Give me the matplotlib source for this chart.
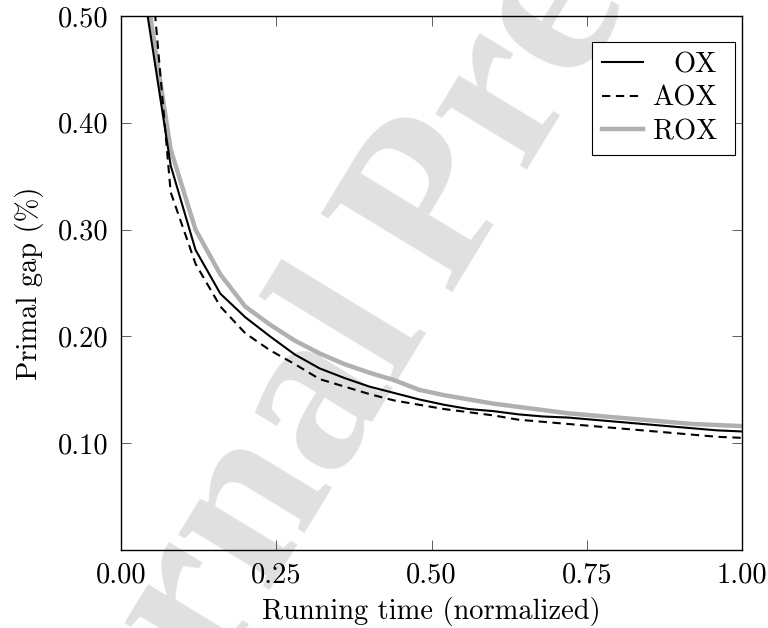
import matplotlib
matplotlib.use("Agg")
import matplotlib.pyplot as plt

# running time (normalized) and primal gap (%) per method
time = [0.04, 0.08, 0.12, 0.16, 0.20, 0.24, 0.28, 0.32, 0.36, 0.40, 0.44, 0.48, 0.52,
        0.56, 0.60, 0.64, 0.68, 0.72, 0.76, 0.80, 0.84, 0.88, 0.92, 0.96, 1.00]
gap_ox = [0.511, 0.360, 0.281, 0.240, 0.218, 0.200, 0.183, 0.170, 0.161, 0.153, 0.147, 0.141, 0.136,
          0.132, 0.130, 0.127, 0.125, 0.124, 0.122, 0.120, 0.118, 0.116, 0.114, 0.112, 0.111]
gap_aox = [0.600, 0.335, 0.268, 0.228, 0.203, 0.187, 0.174, 0.160, 0.153, 0.146, 0.140, 0.136, 0.132,
           0.129, 0.126, 0.122, 0.120, 0.118, 0.116, 0.114, 0.112, 0.110, 0.108, 0.106, 0.105]
gap_rox = [0.527, 0.375, 0.300, 0.258, 0.228, 0.211, 0.196, 0.184, 0.174, 0.166, 0.159, 0.150, 0.145,
           0.141, 0.137, 0.134, 0.131, 0.128, 0.126, 0.124, 0.122, 0.120, 0.118, 0.117, 0.116]

xticks = [0.0, 0.25, 0.5, 0.75, 1.0]
xtick_labels = ["0.00", "0.25", "0.50", "0.75", "1.00"]
yticks = [0.1, 0.2, 0.3, 0.4, 0.5]
ytick_labels = ["0.10", "0.20", "0.30", "0.40", "0.50"]

plt.rcParams["font.family"] = ["cmr10", "DejaVu Serif"]
plt.rcParams["axes.formatter.use_mathtext"] = True
plt.rcParams["lines.scale_dashes"] = False
fs = 20.5

fig = plt.figure(figsize=(7.68, 6.28), dpi=100)
ax = fig.add_axes([121 / 768, 78 / 628, 621 / 768, 534 / 628])

# watermark
wm = dict(family="Liberation Serif", weight="bold", fontsize=168, color="#e0e0e0",
          rotation=58.7, rotation_mode="anchor", va="baseline",
          transform=fig.transFigure, clip_on=False, zorder=0.5)
ax.text(0.5833, 0.5334, "Pre-proof", ha="left", **wm)
ax.text(0.5833 - 0.031, 0.5334 - 0.042, "Journal", ha="right", **wm)

ax.plot(time, gap_ox, color="black", lw=1.5, label="OX", zorder=3)
ax.plot(time, gap_aox, color="black", lw=1.5, dashes=(6, 4), label="AOX", zorder=3)
ax.plot(time, gap_rox, color="#b0b0b0", lw=3.2, label="ROX", zorder=2)

ax.set_xlim(0, 1)
ax.set_ylim(0, 0.5)
ax.set_xticks(xticks)
ax.set_xticklabels(xtick_labels, fontsize=fs)
ax.set_yticks(yticks)
ax.set_yticklabels(ytick_labels, fontsize=fs)
ax.tick_params(direction="in", top=True, right=True, length=7.5, width=0.6,
               color="#444444", pad=9)
for s in ax.spines.values():
    s.set_linewidth(1.0)

ax.set_xlabel("Running time (normalized)", fontsize=fs, labelpad=6)
ax.set_ylabel("Primal gap (%)", fontsize=fs, labelpad=10)

handles, labels = ax.get_legend_handles_labels()
leg = ax.legend(handles, labels, loc="upper right", bbox_to_anchor=(0.989, 0.951),
                borderaxespad=0, fontsize=fs, fancybox=False, framealpha=1,
                edgecolor="black", handlelength=1.45, handletextpad=0.6,
                borderpad=0.35, labelspacing=0.25)
leg.get_frame().set_linewidth(0.8)
leg.set_zorder(5)

# right-align legend labels like pgfplots, leaving some room on the right
fig.canvas.draw()
renderer = fig.canvas.get_renderer()
widths = [t.get_window_extent(renderer).width for t in leg.get_texts()]
shift = max(widths)
for t, w in zip(leg.get_texts(), widths):
    t.set_position((shift - w - 8, 0))

fig.savefig("out.png", dpi=100)
